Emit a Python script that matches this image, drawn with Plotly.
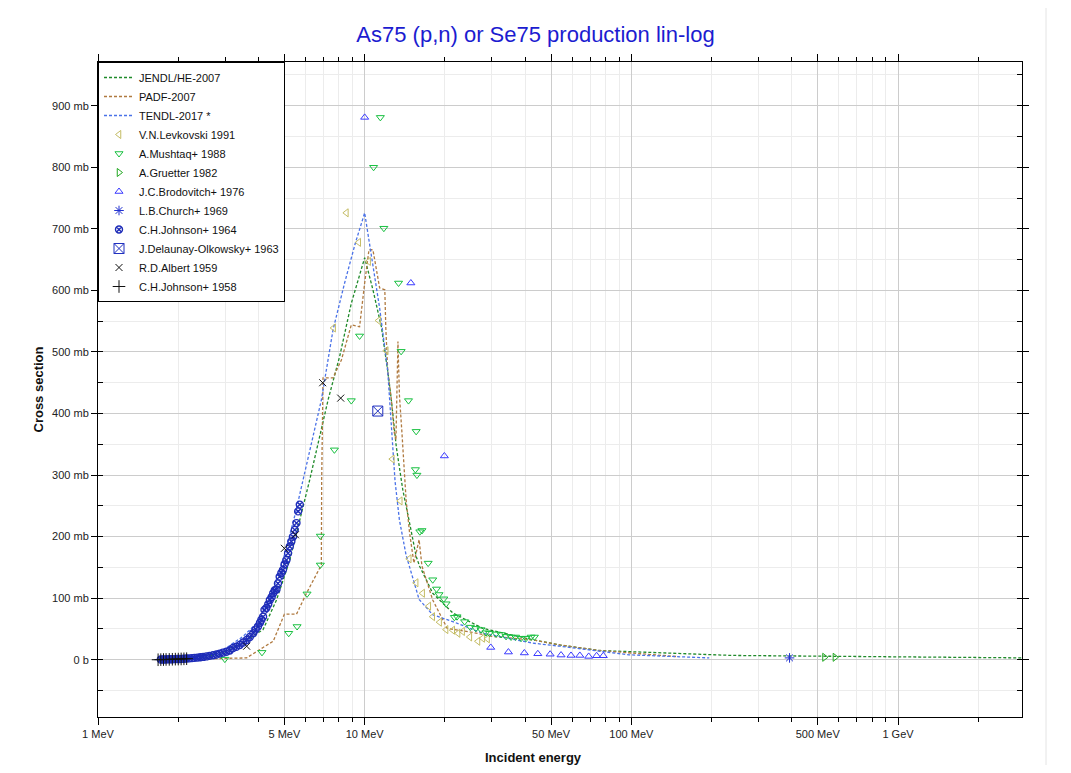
import plotly.graph_objects as go

# ---------------- data (MeV, mb) ----------------
jendl_e = [1.7, 2.0, 2.5, 3.0, 3.5, 4.16, 4.67, 5.24, 5.71, 6.22, 7.29, 8.06, 8.91, 10.0, 10.74, 11.55,
           12.23, 12.59, 13.14, 13.9, 14.74, 15.6, 16.07, 18.0, 21.4, 27.7, 42.7, 53.8, 75.9, 239, 3000]
jendl_s = [0, 1, 4, 13, 28, 49, 97, 162, 227, 292, 422, 493, 579, 653, 601, 541,
           466, 422, 346, 276, 222, 168, 152, 108, 76, 51, 32.5, 24, 15, 7, 3]

padf_e = [1.7, 3.61, 4.16, 4.54, 5.0, 5.55, 6.05, 6.88, 6.9, 6.98, 7.61, 8.18, 8.91, 9.57, 10.0, 10.38,
          10.74, 11.38, 11.9, 12.0, 12.2, 12.6, 12.9, 13.1, 13.33, 13.5, 13.8, 14.3, 14.74, 15.3,
          16.0, 16.4, 18.0, 19.7, 20.4, 25.0, 30.0, 43.0, 54.0, 76.0, 100.0, 150.0]
padf_s = [0, 3, 20, 30, 74, 74, 108, 154, 292, 458, 458, 487, 544, 541, 612, 666,
          666, 604, 601, 540, 470, 422, 370, 357, 517, 430, 368, 260, 206, 157,
          195, 152, 97, 65, 51, 45, 38, 32, 24, 15, 11, 5]

tendl_e = [1.7, 2.0, 2.5, 3.0, 3.5, 4.0, 4.5, 5.0, 5.5, 6.0, 6.88, 7.61, 8.41, 9.2, 10.0, 11.4,
           12.2, 13.0, 13.5, 14.3, 16.0, 18.0, 21.4, 27.7, 42.7, 53.8, 98, 196]
tendl_s = [0, 0.5, 5, 18, 38, 62, 110, 170, 238, 310, 422, 536, 612, 675, 726, 569,
           470, 290, 227, 170, 98, 73, 62, 43, 27, 22, 8, 3]

levk_e = [7.65, 8.54, 9.5, 10.35, 11.28, 12.05, 12.7, 13.6, 14.7, 15.6, 16.5, 17.4, 18.0, 19.1,
          20.2, 21.4, 22.4, 23.3, 24.8, 26.6, 27.7, 28.9]
levk_s = [539, 726, 678, 647, 551, 502, 326, 258, 164, 125, 108, 87, 70, 61,
          49, 48, 43, 46, 37, 30, 35, 34]

mush_e = [2.99, 4.12, 5.19, 5.58, 6.08, 6.82, 6.82, 7.7, 8.91, 9.57, 10.8, 11.45, 11.8, 13.4, 13.7,
          14.6, 15.5, 15.6, 15.7, 16.1, 16.4, 17.3, 18.0, 18.6, 19.0, 19.8, 20.2, 21.7, 22.2, 23.7,
          24.9, 26.1, 27.3, 28.5, 29.4, 31.1, 32.5, 33.9, 35.4, 36.8, 38.6, 40.3, 42.1, 43.3]
mush_s = [1, 12, 43, 54, 107, 154, 201, 341, 421, 526, 800, 881, 701, 612, 501,
          421, 309, 371, 300, 208, 210, 157, 130, 115, 106, 99, 91, 69, 70, 62,
          53, 51, 49, 44, 43, 42, 41, 38, 37, 37, 35, 35, 37, 37]

grue_e = [530, 580]
grue_s = [4, 4]

brod_e = [10.0, 14.9, 19.9, 29.7, 34.6, 39.7, 44.6, 49.6, 54.5, 59.4, 64.1, 69.2, 74.1, 78.5]
brod_s = [881, 612, 331, 20, 12.5, 11, 9.7, 9, 7.6, 7, 7, 5.4, 6.5, 6.5]

church_e = [392]
church_s = [3]

j64_e = [1.72, 1.75, 1.78, 1.81, 1.84, 1.87, 1.90, 1.94, 1.98, 2.02, 2.06, 2.10, 2.15, 2.20, 2.25,
         2.30, 2.36, 2.42, 2.48, 2.55, 2.62, 2.70, 2.78, 2.86, 2.94, 3.03, 3.12, 3.21, 3.30, 3.40,
         3.50, 3.61, 3.71, 3.82, 3.90, 3.98, 4.05, 4.10, 4.16, 4.21, 4.28, 4.35, 4.41, 4.48, 4.54,
         4.60, 4.67, 4.73, 4.80, 4.87, 4.94, 5.01, 5.09, 5.16, 5.24, 5.31, 5.39, 5.47, 5.55, 5.63, 5.71]
j64_s = [0.3, 0.4, 0.5, 0.6, 0.7, 0.8, 0.9, 1.0, 1.2, 1.3, 1.5, 1.7, 2.0, 2.3, 2.6,
         3.0, 3.5, 4.0, 4.6, 5.4, 6.3, 7.4, 8.6, 10, 11.5, 13, 15, 19, 21, 24,
         28, 32, 37, 43, 49, 54, 60, 65, 70, 81, 84, 90, 97, 102, 108,
         113, 114, 124, 135, 141, 146, 155, 162, 173, 184, 192, 200, 211, 222, 241, 252]

delau_e = [11.2]
delau_s = [404]

albert_e = [3.61, 5.0, 5.5, 6.96, 8.13]
albert_s = [22, 181, 203, 450, 425]

j58_e = [1.68, 1.72, 1.76, 1.80, 1.85, 1.90, 1.95, 2.00, 2.05, 2.10, 2.15]
j58_s = [0, 0.2, 0.3, 0.5, 0.6, 0.8, 1.0, 1.1, 1.3, 1.5, 1.7]

x_tickvals = [1, 5, 10, 50, 100, 500, 1000]
x_ticktext = ["1 MeV", "5 MeV", "10 MeV", "50 MeV", "100 MeV", "500 MeV", "1 GeV"]
x_minorvals = [2, 3, 4, 6, 7, 8, 9, 20, 30, 40, 60, 70, 80, 90, 200, 300, 400, 600, 700, 800, 900, 2000]
y_tickvals = [0, 100, 200, 300, 400, 500, 600, 700, 800, 900]
y_ticktext = ["0 b", "100 mb", "200 mb", "300 mb", "400 mb", "500 mb", "600 mb", "700 mb", "800 mb", "900 mb"]

# ---------------- figure ----------------
fig = go.Figure()
DASH = "3px,2px"

def line_trace(x, y, name, color):
    fig.add_trace(go.Scatter(x=x, y=y, name=name, mode="lines",
                             line=dict(color=color, width=1.3, dash=DASH)))

def mark_trace(x, y, name, color, symbol, size=7, width=1):
    fig.add_trace(go.Scatter(x=x, y=y, name=name, mode="markers",
                             marker=dict(symbol=symbol, size=size, color=color,
                                         line=dict(color=color, width=width))))

line_trace(jendl_e, jendl_s, "JENDL/HE-2007", "#1f8a2a")
line_trace(padf_e, padf_s, "PADF-2007", "#b07a40")
line_trace(tendl_e, tendl_s, "TENDL-2017 *", "#4a72e8")
mark_trace(levk_e, levk_s, "V.N.Levkovski 1991", "#c4bc64", "triangle-left-open", 7)
mark_trace(mush_e, mush_s, "A.Mushtaq+ 1988", "#18c040", "triangle-down-open", 7)
mark_trace(grue_e, grue_s, "A.Gruetter 1982", "#22a822", "triangle-right-open", 7)
mark_trace(brod_e, brod_s, "J.C.Brodovitch+ 1976", "#3a3aff", "triangle-up-open", 7)
mark_trace(church_e, church_s, "L.B.Church+ 1969", "#2030d0", "asterisk-open", 8)
mark_trace(j64_e, j64_s, "C.H.Johnson+ 1964", "#1e2cb8", "circle-x-open", 7, 1.4)
mark_trace(delau_e, delau_s, "J.Delaunay-Olkowsky+ 1963", "#2030c0", "square-x-open", 10)
mark_trace(albert_e, albert_s, "R.D.Albert 1959", "#111111", "x-thin-open", 7)
mark_trace(j58_e, j58_s, "C.H.Johnson+ 1958", "#111111", "cross-thin-open", 9)

FONT = "Liberation Sans, Arial, sans-serif"

W, H = 1055, 757
PX = lambda px: (px - 98) / 924          # page x pixel -> paper x
PY = lambda py: (717 - py) / 655         # page y pixel -> paper y

fig.update_layout(
    width=W, height=H,
    paper_bgcolor="white", plot_bgcolor="white",
    margin=dict(l=90, r=W - 1014, t=54, b=H - 709),
    font=dict(family=FONT, size=11, color="#222222"),
    title=dict(text="As75 (p,n) or Se75 production lin-log", x=0.5, xanchor="center",
               y=1 - 26 / H, yanchor="middle",
               font=dict(family=FONT, size=22, color="#1c1cd0")),
    showlegend=True,
    legend=dict(x=0, y=1, xanchor="left", yanchor="top", bgcolor="white",
                bordercolor="#000000", borderwidth=1, font=dict(family=FONT, size=11, color="#111111"),
                tracegroupgap=0, itemwidth=30),
    xaxis=dict(type="log", range=[0, 3.465],
               tickmode="array", tickvals=x_tickvals, ticktext=x_ticktext,
               showgrid=True, gridcolor="#cccccc", gridwidth=1,
               ticks="outside", ticklen=7, tickcolor="#000000",
               showline=True, linecolor="#000000", linewidth=1, mirror="allticks",
               zeroline=False, tickfont=dict(size=11),
               minor=dict(tickmode="array", tickvals=x_minorvals, showgrid=True,
                          gridcolor="#ececec", ticks="outside", ticklen=4, tickcolor="#000000")),
    yaxis=dict(range=[-93, 971],
               tickmode="array", tickvals=y_tickvals, ticktext=y_ticktext,
               showgrid=True, gridcolor="#cccccc", gridwidth=1,
               ticks="outside", ticklen=6, tickcolor="#000000",
               showline=True, linecolor="#000000", linewidth=1, mirror="allticks",
               zeroline=False, tickfont=dict(size=11),
               minor=dict(dtick=50, tick0=50, showgrid=True, gridcolor="#ececec",
                          ticks="inside", ticklen=5, tickcolor="#000000")),
    shapes=[
        dict(type="line", xref="paper", yref="paper", x0=PX(1046), x1=PX(1046), y0=PY(3), y1=PY(773),
             line=dict(color="#e4e4e4", width=1)),
        dict(type="line", xref="paper", yref="paper", x0=PX(8), x1=PX(1046), y0=PY(3), y1=PY(3),
             line=dict(color="#e4e4e4", width=1)),
    ],
    annotations=[
        dict(text="<b>Incident energy</b>", xref="paper", yref="paper",
             x=PX(533.5), y=PY(757), xanchor="center", yanchor="middle",
             showarrow=False, font=dict(family=FONT, size=13, color="#111111")),
        dict(text="<b>Cross section</b>", xref="paper", yref="paper",
             x=PX(38), y=0.5, xanchor="center", yanchor="middle", textangle=-90,
             showarrow=False, font=dict(family=FONT, size=13, color="#111111")),
    ],
)

fig.write_html("out.html")
